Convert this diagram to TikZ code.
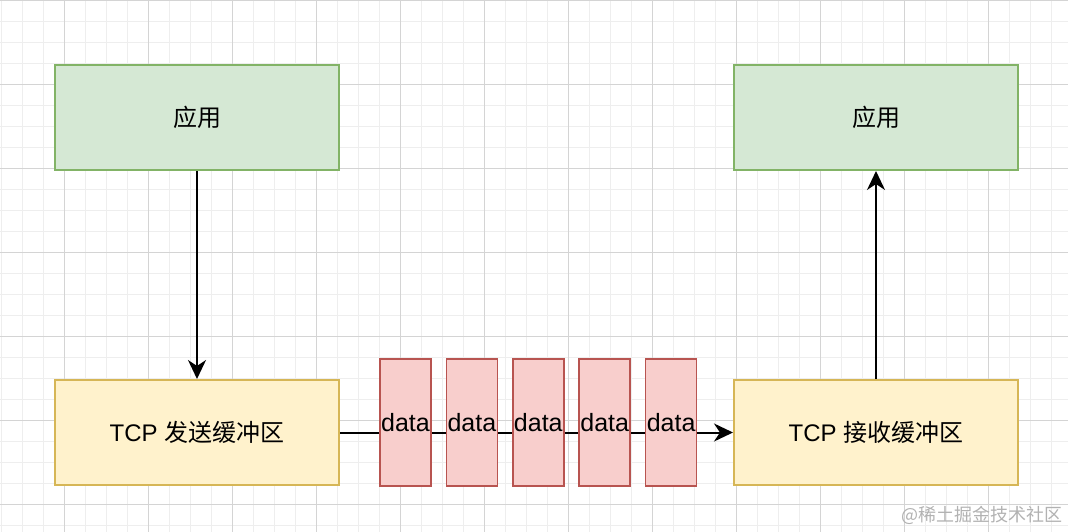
\documentclass[tikz,border=0pt]{standalone}
\usepackage{fontspec}
\setmainfont{Liberation Sans}
\newfontfamily\cjk{Noto Sans CJK SC}
\usetikzlibrary{arrows.meta}
\definecolor{gfill}{HTML}{D5E8D4}
\definecolor{gline}{HTML}{82B366}
\definecolor{yfill}{HTML}{FFF2CC}
\definecolor{yline}{HTML}{D6B656}
\definecolor{rfill}{HTML}{F8CECC}
\definecolor{rline}{HTML}{B85450}
\definecolor{minorgrid}{HTML}{EEEEEE}
\definecolor{majorgrid}{HTML}{D4D4D4}
\begin{document}
\begin{tikzpicture}[x=1pt,y=-1pt,
  bigbox/.style={draw,line width=2pt,minimum width=284pt,minimum height=105pt,inner sep=0pt,font=\fontsize{24}{28}\selectfont},
  appbox/.style={bigbox,fill=gfill,draw=gline},
  bufbox/.style={bigbox,fill=yfill,draw=yline},
  databox/.style={draw=rline,fill=rfill,line width=1.6pt,minimum width=51pt,minimum height=127pt,inner sep=0pt,font=\fontsize{25}{28}\selectfont},
  conn/.style={line width=2pt,-{Stealth[length=19pt,width=18pt,inset=6pt]}}]
\useasboundingbox (0,0) rectangle (1068,532);
\fill[white] (0,0) rectangle (1068,532);
% grid
\foreach \i in {-3,...,48} {\draw[minorgrid,line width=0.8pt] (64+21*\i,0) -- (64+21*\i,532);}
\foreach \j in {0,...,25} {\draw[minorgrid,line width=0.8pt] (0,21*\j) -- (1068,21*\j);}
\foreach \i in {0,...,12} {\draw[majorgrid,line width=0.8pt] (64+84*\i,0) -- (64+84*\i,532);}
\foreach \j in {0,...,6} {\draw[majorgrid,line width=0.8pt] (0,84*\j) -- (1068,84*\j);}
% nodes
\node[appbox] (a1) at (197,117.5) {{\cjk 应用}};
\node[appbox] (a2) at (876,117.5) {{\cjk 应用}};
\node[bufbox] (s) at (197,432.5) {TCP {\cjk 发送缓冲区}};
\node[bufbox] (r) at (876,432.5) {TCP {\cjk 接收缓冲区}};
\draw[conn] (a1) -- (s);
\draw[conn] (r) -- (a2);
\draw[conn] (s) -- (r);
\foreach \k in {1,...,5} {
  \node[databox] (d\k) at (405.5+66.4*\k-66.4,422.5) {data};
}
\node[text=black!30,font=\cjk\fontsize{18}{20}\selectfont] (wm) at (982,515) {@稀土掘金技术社区};
\end{tikzpicture}
\end{document}
